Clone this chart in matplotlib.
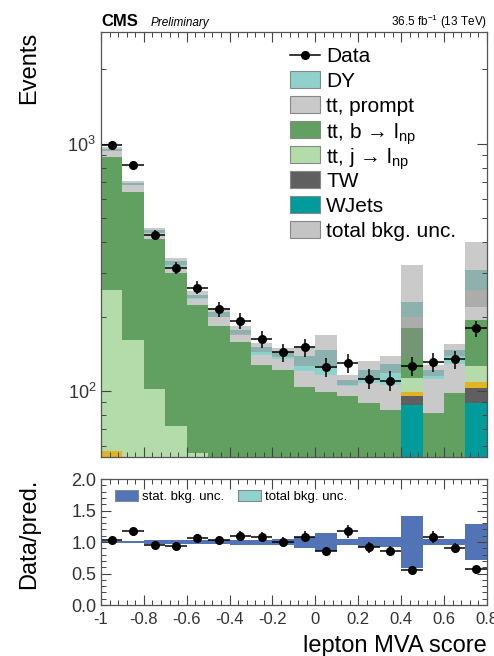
import numpy as np
import matplotlib
matplotlib.use('Agg')
import matplotlib.pyplot as plt
from matplotlib.patches import Patch, Rectangle
from matplotlib.lines import Line2D
from matplotlib.ticker import MultipleLocator, FixedLocator, FuncFormatter

plt.rcParams['font.family'] = ['Liberation Sans', 'DejaVu Sans']
plt.rcParams['mathtext.fontset'] = 'custom'
plt.rcParams['mathtext.rm'] = 'Liberation Sans'
plt.rcParams['mathtext.it'] = 'Liberation Sans:italic'
plt.rcParams['mathtext.bf'] = 'Liberation Sans:bold'
plt.rcParams['axes.unicode_minus'] = False

# Binning (lepton MVA score)
edges = np.linspace(-1.0, 0.8, 19)
centers = 0.5 * (edges[:-1] + edges[1:])
width = edges[1] - edges[0]

# Datos (eventos por bin)
data = np.array([990, 820, 428, 314, 262, 214, 192, 162, 143, 150, 125, 130, 112, 110, 126, 131, 134, 179])

wjets = np.array([1, 1, 1, 1, 1, 1, 1, 1, 1, 1, 1, 1, 1, 1, 88, 1, 1, 89])
tw = np.array([47, 33, 20, 14, 10, 8, 6, 5, 5, 4, 4, 4, 3, 3, 7, 3, 3, 14])
otros = np.array([9, 3, 2, 2, 1, 1, 1, 1, 1, 1, 1, 1, 1, 1, 4, 1, 1, 6])
tt_j = np.array([199, 123, 79, 55, 44, 8, 5, 4, 3, 3, 3, 3, 2, 2, 14, 2, 3, 17])
tt_b = np.array([627, 481, 310, 228, 167, 165, 145, 116, 111, 95, 90, 86, 82, 77, 67, 74, 90, 67])
tt_prompt = np.array([52, 39, 23, 18, 13, 17, 12, 13, 14, 16, 17, 10, 19, 22, 20, 31, 31, 63])
dy = np.array([17, 15, 11, 16, 9, 8, 6, 10, 8, 18, 31, 6, 14, 22, 29, 9, 18, 53])

# Incertidumbre total del fondo (absoluta)
unc = np.array([20, 15, 12, 10, 8, 8, 7, 6, 6, 12, 21, 5, 10, 10, 95, 6, 8, 90])

componentes = [
    (wjets, '#009b9b', 'WJets'),
    (tw, '#5f5f5f', 'TW'),
    (otros, '#e2b424', None),
    (tt_j, '#b3dcaa', r'tt, j → l$_{\mathrm{np}}$'),
    (tt_b, '#62a062', r'tt, b → l$_{\mathrm{np}}$'),
    (tt_prompt, '#c9c9c9', 'tt, prompt'),
    (dy, '#8fd2cc', 'DY'),
]

fig = plt.figure(figsize=(4.94, 6.56), dpi=100)
ax = fig.add_axes([0.2045, 0.3034, 0.781, 0.648])
rax = fig.add_axes([0.2045, 0.0777, 0.781, 0.192])

# Stack
fondo = np.zeros(len(centers))
for vals, col, lab in componentes:
    ax.bar(centers, vals, width=width, bottom=fondo, color=col, linewidth=0)
    fondo = fondo + vals
total = fondo

# Banda de incertidumbre
ax.bar(centers, 2 * unc, width=width, bottom=total - unc, color='#8a8a8a', alpha=0.45, linewidth=0)

# Datos
ax.errorbar(centers, data, xerr=width / 2, yerr=np.sqrt(data), fmt='o', color='black',
            ms=5.5, elinewidth=1.1, capsize=0)

ax.set_yscale('log')
ax.set_xlim(-1.0, 0.8)
ax.set_ylim(54, 2840)
ax.yaxis.set_major_locator(FixedLocator([100, 1000]))
ax.yaxis.set_major_formatter(FuncFormatter(lambda v, p: r'$10^{%d}$' % round(np.log10(v))))
ax.xaxis.set_major_locator(MultipleLocator(0.2))
ax.xaxis.set_minor_locator(MultipleLocator(0.04))
ax.tick_params(labelbottom=False)
ax.set_ylabel('Events', fontsize=17, loc='top')
ax.yaxis.set_label_coords(-0.158, 1.0)

# Leyenda hecha a mano (filas igualmente espaciadas)
entradas = [('Data', None)]
for vals, col, lab in componentes[::-1]:
    if lab is not None:
        entradas.append((lab, col))
entradas.append(('total bkg. unc.', '#c4c4c4'))

x0, hw, hh = 0.4896, 0.0777, 0.040
y_top, paso = 0.9458, 0.0588
for i, (lab, col) in enumerate(entradas):
    yc = y_top - i * paso
    if col is None:
        ax.add_line(Line2D([x0, x0 + hw], [yc, yc], color='black', lw=1.1,
                           transform=ax.transAxes))
        ax.add_line(Line2D([x0 + hw / 2], [yc], color='black', marker='o', ms=5.5,
                           transform=ax.transAxes))
    else:
        ax.add_patch(Rectangle((x0, yc - hh / 2), hw, hh, facecolor=col, edgecolor='#888888',
                               lw=0.8, transform=ax.transAxes))
    ax.text(x0 + hw + 0.016, yc, lab, fontsize=15, ha='left', va='center_baseline',
            transform=ax.transAxes)

# Ratio
ratio = data / total
rel = unc / total
rax.bar(centers, 2 * rel, width=width, bottom=1 - rel, color='#8fd2cc', linewidth=0)
rax.bar(centers, 2 * rel, width=width, bottom=1 - rel, color='#5274b6', linewidth=0)
rax.errorbar(centers, ratio, xerr=width / 2, yerr=np.sqrt(data) / total, fmt='o', color='black',
             ms=5.5, elinewidth=1.1, capsize=0)
rax.set_xlim(-1.0, 0.8)
rax.set_ylim(0, 2)
rax.xaxis.set_major_locator(MultipleLocator(0.2))
rax.xaxis.set_minor_locator(MultipleLocator(0.04))
rax.yaxis.set_major_locator(MultipleLocator(0.5))
rax.yaxis.set_minor_locator(MultipleLocator(0.1))
rax.yaxis.set_major_formatter(FuncFormatter(lambda v, p: '%.1f' % v))
rax.xaxis.set_major_formatter(FuncFormatter(lambda v, p: '%g' % round(v, 1)))
rax.set_ylabel('Data/pred.', fontsize=17, loc='top')
rax.yaxis.set_label_coords(-0.158, 1.0)
rax.set_xlabel('lepton MVA score', fontsize=17, loc='right')
rax.xaxis.set_label_coords(1.0, -0.24)
rax.legend([Patch(facecolor='#5274b6', edgecolor='#888888', lw=0.8),
            Patch(facecolor='#8fd2cc', edgecolor='#888888', lw=0.8)],
           ['stat. bkg. unc.', 'total bkg. unc.'], ncol=2, loc='upper left',
           bbox_to_anchor=(0.035, 0.91), frameon=False, fontsize=9.5, handlelength=1.8,
           handleheight=0.9, handletextpad=0.3, columnspacing=1.0, borderpad=0, borderaxespad=0)

for a in (ax, rax):
    a.tick_params(which='both', direction='in', top=True, right=True, colors='#444444',
                  labelcolor='#333333')
    a.tick_params(which='major', length=7, width=0.8)
    a.tick_params(which='minor', length=3.5, width=0.7)
    for s in a.spines.values():
        s.set_color('#555555')
        s.set_linewidth(0.9)
ax.tick_params(axis='y', labelsize=13)
rax.tick_params(axis='y', labelsize=13)
rax.tick_params(axis='x', labelsize=12, pad=5)

fig.text(0.2045, 0.961, 'CMS', fontsize=12, fontweight='bold', ha='left', va='baseline')
fig.text(0.305, 0.961, 'Preliminary', fontsize=8.5, style='italic', ha='left', va='baseline')
fig.text(0.985, 0.961, r'36.5 fb$^{-1}$ (13 TeV)', fontsize=8.5, ha='right', va='baseline')

fig.savefig('out.png', dpi=100)
